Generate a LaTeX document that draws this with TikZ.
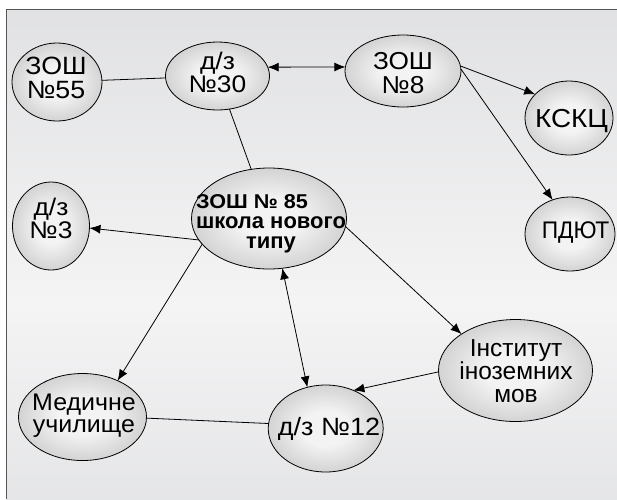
\documentclass[tikz,border=0pt]{standalone}
\usepackage{fontspec}
\setmainfont{Liberation Sans}
\newfontfamily\fwa[FakeStretch=1.07]{Liberation Sans}
\newfontfamily\fwb[FakeStretch=1.1]{Liberation Sans}
\newfontfamily\fwc[FakeStretch=1.04]{Liberation Sans}
\newfontfamily\fwd[FakeStretch=0.95]{Liberation Sans}
\newfontfamily\fwe[FakeStretch=1.08]{Liberation Sans}
\usetikzlibrary{shapes.geometric,arrows.meta}
\definecolor{bgtop}{RGB}{209,210,212}
\definecolor{bgmid}{RGB}{244,244,245}
\definecolor{bgbot}{RGB}{211,212,214}
\definecolor{elin}{RGB}{243,243,243}
\definecolor{elout}{RGB}{158,158,160}
\definecolor{framec}{RGB}{85,85,85}
\pgfdeclareverticalshading{bgsh}{100bp}{color(0bp)=(bgbot); color(45bp)=(bgmid); color(100bp)=(bgtop)}
\pgfdeclareradialshading{elsh}{\pgfpoint{0bp}{0bp}}{color(0bp)=(elin); color(10bp)=(elin); color(50bp)=(elout)}
\tikzset{
  ell/.style={ellipse, draw=black, line width=0.8pt, shade, shading=elsh, inner sep=0pt, outer sep=0pt},
  txt/.style={align=center, inner sep=0pt, anchor=base},
  con/.style={line width=0.8pt, black},
  arr/.style={con, -{Latex[length=11pt,width=9pt]}},
  darr/.style={con, {Latex[length=11pt,width=9pt]}-{Latex[length=11pt,width=9pt]}},
}
\begin{document}
\begin{tikzpicture}[x=1pt,y=-1pt]
\useasboundingbox (0,0) rectangle (617,499);
\shade[shading=bgsh] (6.5,9.5) rectangle (617,499);
\draw[framec, line width=1.5pt] (6.5,499) -- (6.5,9.5) -- (617,9.5);

% ellipses
\node[ell, minimum width=90pt, minimum height=78pt] (n55) at (57,82) {};
\node[ell, minimum width=104pt, minimum height=68pt] (d30) at (217.5,76) {};
\node[ell, minimum width=116pt, minimum height=72pt] (s8) at (403,71) {};
\node[ell, minimum width=88pt, minimum height=74pt] (kskc) at (569,118) {};
\node[ell, minimum width=90pt, minimum height=74pt] (pdyut) at (570,234) {};
\node[ell, minimum width=77pt, minimum height=88pt] (d3) at (51,226) {};
\node[ell, minimum width=155pt, minimum height=101pt] (main) at (269,218.5) {};
\node[ell, minimum width=128pt, minimum height=87pt] (med) at (82.5,417) {};
\node[ell, minimum width=115pt, minimum height=87pt] (d12) at (325.7,428.5) {};
\node[ell, minimum width=154pt, minimum height=102pt] (inst) at (515.5,370.5) {};

% texts
\node[txt, font=\fwa\fontsize{25}{24}\selectfont] (t55) at (56,98) {ЗОШ\\№55};
\node[txt, font=\fwb\fontsize{24}{18.5}\selectfont] (t30) at (217.5,92) {д/з\\№30};
\node[txt, font=\fwa\fontsize{24.5}{23.5}\selectfont] (t8) at (403,93) {ЗОШ\\№8};
\node[txt, font=\fwa\fontsize{26}{21}\selectfont] (tk) at (571.5,127) {КСКЦ};
\node[txt, font=\fwd\fontsize{24}{21}\selectfont] (tp) at (575.5,238.5) {ПДЮТ};
\node[txt, font=\fwb\fontsize{24}{18.5}\selectfont] (t3) at (51,238) {д/з\\№3};
\node[txt, font=\fwc\fontsize{24}{22.7}\selectfont] (tm) at (84,432.7) {Медичне\\училище};
\node[txt, font=\fwe\fontsize{25}{21}\selectfont] (t12) at (329,435) {д/з №12};
\node[txt, font=\fontsize{24.5}{23}\selectfont] (ti) at (516,402) {Інститут\\іноземних\\мов};
\node[txt, font=\bfseries\fontsize{22}{20}\selectfont] (tmain) at (271,248.3)
  {{\fwe\bfseries\fontsize{20}{20}\selectfont\rlap{ЗОШ № 85}}\hphantom{школа нового}\\школа нового\\типу};

% connectors
\draw[con] (n55) -- (d30);
\draw[darr] (d30.10) -- (s8.176);
\draw[con] (d30) -- (main);
\draw[arr] (s8.5) -- (kskc.145);
\draw[arr] (s8.2) -- (pdyut.117);
\draw[arr] (main.197.5) -- (d3.-3.4);
\draw[arr] (main.201.5) -- (med.46);
\draw[darr] (main.-75) -- (d12.114.6);
\draw[arr] (main.-6.2) -- (inst.146);
\draw[arr] (inst.181) -- (d12.54);
\draw[con] (med.-1) -- (d12.175.5);
\end{tikzpicture}
\end{document}
